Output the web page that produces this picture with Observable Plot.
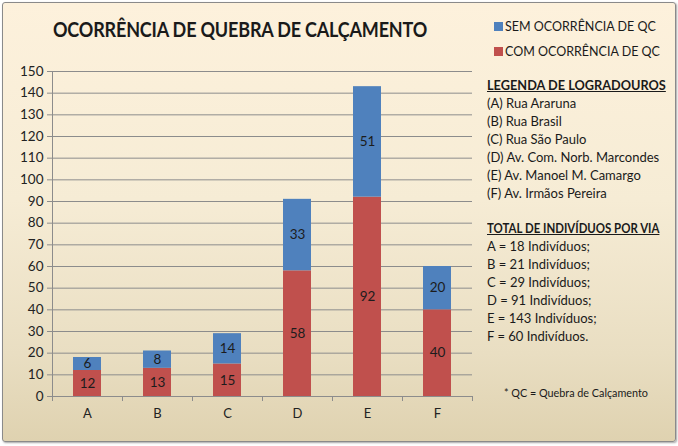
<!DOCTYPE html>
<html>
<head>
<meta charset="utf-8">
<script src="https://cdn.jsdelivr.net/npm/d3@7"></script>
<script src="https://cdn.jsdelivr.net/npm/@observablehq/plot@0.6"></script>
<style>
  html, body { margin: 0; padding: 0; background: #fff; }
  #frame {
    position: absolute; left: 2px; top: 2px; width: 672px; height: 438px;
    border: 1px solid #8a8a8a; border-radius: 3px;
    background: linear-gradient(to bottom, #fdf1dc 0%, #f6ecd5 45%, #e9dec2 80%, #dfd2b0 100%);
    box-shadow: 1px 1px 2px rgba(0,0,0,0.35);
    font-family: Lato, "Open Sans", sans-serif; color: #1a1a1a;
    overflow: hidden;
  }
  #title { position: absolute; left: 50px; top: 14px; font-size: 20px; font-weight: bold; letter-spacing: -0.2px; transform: scaleX(0.9); transform-origin: left center; white-space: nowrap; }
  .leg { position: absolute; left: 491px; font-size: 12.5px; display: flex; align-items: center; white-space: nowrap; }
  .sw { width: 9px; height: 9px; margin-right: 2px; display: inline-block; }
  #notes { position: absolute; left: 484px; top: 73px; font-size: 13px; line-height: 18px; white-space: nowrap; }
  #notes .h { font-weight: bold; text-decoration: underline; transform-origin: left center; }
  #foot { position: absolute; left: 501px; top: 383px; font-size: 10.8px; white-space: nowrap; }
  #chart { position: absolute; left: -3px; top: 51px; }
</style>
</head>
<body>
<div id="frame">
  <div id="title"></div>
  <div id="legend"></div>
  <div id="notes"></div>
  <div id="foot"></div>
  <div id="chart"></div>
</div>
<script>
const categories = ["A", "B", "C", "D", "E", "F"];
const comValues = [12, 13, 15, 58, 92, 40];
const semValues = [6, 8, 14, 33, 51, 20];
const seriesNames = ["COM OCORRÊNCIA DE QC", "SEM OCORRÊNCIA DE QC"];
const seriesColors = ["#c0504d", "#4f81bd"];
const streetNames = ["Rua Araruna", "Rua Brasil", "Rua São Paulo", "Av. Com. Norb. Marcondes", "Av. Manoel M. Camargo", "Av. Irmãos Pereira"];
const totals = [18, 21, 29, 91, 143, 60];
const yTicks = d3.range(0, 151, 10);
const titleText = "OCORRÊNCIA DE QUEBRA DE CALÇAMENTO";
const footText = "* QC = Quebra de Calçamento";

document.getElementById("title").textContent = titleText;
document.getElementById("foot").textContent = footText;

// legend (SEM on top, COM below)
const legend = document.getElementById("legend");
[[1, 16], [0, 41]].forEach(([i, top]) => {
  const d = document.createElement("div");
  d.className = "leg"; d.style.top = top + "px";
  d.innerHTML = `<span class="sw" style="background:${seriesColors[i]}"></span>${seriesNames[i]}`;
  legend.appendChild(d);
});

// notes
const notes = document.getElementById("notes");
let html = `<div class="h" style="transform:scaleX(0.98)">LEGENDA DE LOGRADOUROS</div>`;
categories.forEach((c, i) => { html += `<div>(${c}) ${streetNames[i]}</div>`; });
html += `<div style="height:17px"></div><div class="h" style="transform:scaleX(0.88)">TOTAL DE INDIVÍDUOS POR VIA</div>`;
categories.forEach((c, i) => {
  html += `<div>${c} = ${totals[i]} Indivíduos${i === categories.length - 1 ? "." : ";"}</div>`;
});
notes.innerHTML = html;

const data = [];
categories.forEach((c, i) => data.push({cat: c, series: seriesNames[0], value: comValues[i]}));
categories.forEach((c, i) => data.push({cat: c, series: seriesNames[1], value: semValues[i]}));

const W = 480, mL = 52, mR = 8;
const bw = (W - mL - mR) / categories.length;

const chart = Plot.plot({
  width: W, height: 377,
  marginLeft: mL, marginRight: mR, marginTop: 17, marginBottom: 35,
  style: {background: "transparent", fontFamily: "Lato, 'Open Sans', sans-serif", fontSize: "13px", color: "#222"},
  x: {domain: categories, padding: 0, label: null},
  y: {domain: [0, 150], label: null},
  color: {domain: seriesNames, range: seriesColors},
  marks: [
    Plot.gridY(yTicks, {stroke: "#8c8c8c", strokeOpacity: 1, strokeWidth: 1}),
    Plot.barY(data, Plot.stackY({x: "cat", y: "value", fill: "series", z: "series", order: null, insetLeft: 21, insetRight: 21})),
    Plot.text(data, Plot.stackY({x: "cat", y: "value", z: "series", order: null, text: d => String(d.value), fill: "#1c1c1c", fontSize: 13.5})),
    Plot.ruleX([categories[0]], {dx: -bw / 2, stroke: "#8c8c8c"}),
    Plot.ruleY([0], {stroke: "#8c8c8c"}),
    Plot.axisY(yTicks, {tickSize: 5, tickPadding: 4, stroke: "#8c8c8c", fill: "#222", fontSize: 13.5}),
    Plot.axisX(categories, {tickSize: 5, dx: -bw / 2, text: null, stroke: "#8c8c8c"}),
    Plot.axisX([categories[categories.length - 1]], {tickSize: 5, dx: bw / 2, text: null, stroke: "#8c8c8c"}),
    Plot.axisX(categories, {tickSize: 0, tickPadding: 12, fill: "#222", fontSize: 13})
  ]
});
document.getElementById("chart").appendChild(chart);
</script>
</body>
</html>
